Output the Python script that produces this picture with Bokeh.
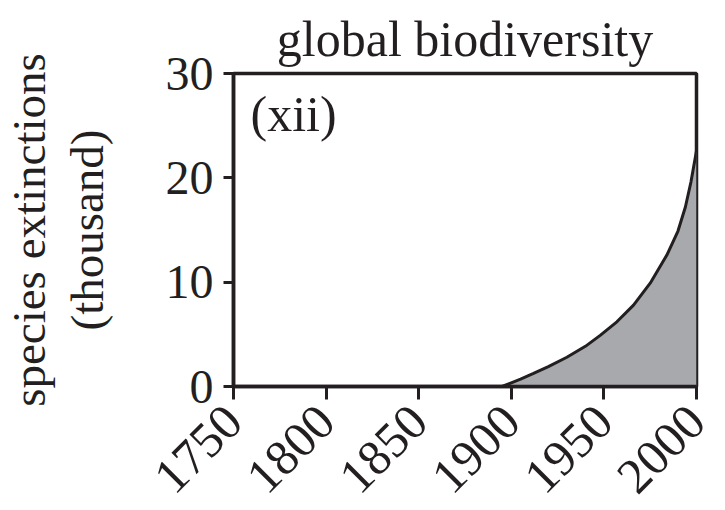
from bokeh.plotting import figure
from bokeh.models import Range1d, FixedTicker, Label
from bokeh.embed import file_html
from bokeh.resources import INLINE
import math

# data
years = [1895, 1900, 1905, 1912, 1920, 1930, 1940, 1948, 1957, 1966, 1975, 1984, 1990, 1994, 1997, 2000]
extinctions = [0, 0.35, 0.7, 1.25, 1.9, 2.8, 3.85, 4.9, 6.2, 7.8, 9.9, 12.6, 14.9, 17.2, 19.6, 22.6]
x_ticks = [1750, 1800, 1850, 1900, 1950, 2000]
y_ticks = [0, 10, 20, 30]
title_text = "global biodiversity"
y_label = "species extinctions\n(thousand)"
panel_tag = "(xii)"

INK = "#231f20"
FONT = "Liberation Serif"

p = figure(width=725, height=510, output_backend="svg", toolbar_location=None,
           x_range=Range1d(1750, 2000), y_range=Range1d(0, 30),
           title=title_text)
p.min_border_left = 232
p.min_border_right = 29
p.min_border_top = 73
p.min_border_bottom = 124

p.varea(x=years, y1=0, y2=extinctions, fill_color="#a7a9ac")
p.line(x=years, y=extinctions, line_color=INK, line_width=3)

p.title.text_font = FONT
p.title.text_font_size = "50px"
p.title.text_font_style = "normal"
p.title.text_color = INK
p.title.align = "center"
p.title.standoff = 14

p.xgrid.visible = False
p.ygrid.visible = False
p.outline_line_color = INK
p.outline_line_width = 3.5
p.outline_line_alpha = 1

for ax in (p.xaxis[0], p.yaxis[0]):
    ax.axis_line_color = INK
    ax.axis_line_width = 3.5
    ax.major_tick_line_color = INK
    ax.major_tick_line_width = 3
    ax.major_tick_in = 0
    ax.minor_tick_line_color = None
    ax.major_label_text_font = FONT
    ax.major_label_text_color = INK

p.xaxis[0].ticker = FixedTicker(ticks=x_ticks)
p.yaxis[0].ticker = FixedTicker(ticks=y_ticks)
p.xaxis[0].major_tick_out = 13
p.yaxis[0].major_tick_out = 10
p.xaxis[0].major_label_orientation = math.pi / 4
p.xaxis[0].major_label_text_font_size = "50px"
p.xaxis[0].major_label_text_line_height = 0.8
p.xaxis[0].major_label_standoff = 14
p.yaxis[0].major_label_text_font_size = "48px"
p.yaxis[0].major_label_standoff = 10

p.yaxis[0].axis_label = y_label
p.yaxis[0].axis_label_text_font = FONT
p.yaxis[0].axis_label_text_font_size = "47px"
p.yaxis[0].axis_label_text_font_style = "normal"
p.yaxis[0].axis_label_text_color = INK
p.yaxis[0].axis_label_text_line_height = 1.1
p.yaxis[0].axis_label_standoff = 50

tag = Label(x=1750, y=30, x_offset=17, y_offset=-12, text=panel_tag,
            text_font=FONT, text_font_size="50px", text_color=INK,
            text_baseline="top", text_align="left")
p.add_layout(tag)

open("out.html", "w").write(file_html(p, INLINE))
